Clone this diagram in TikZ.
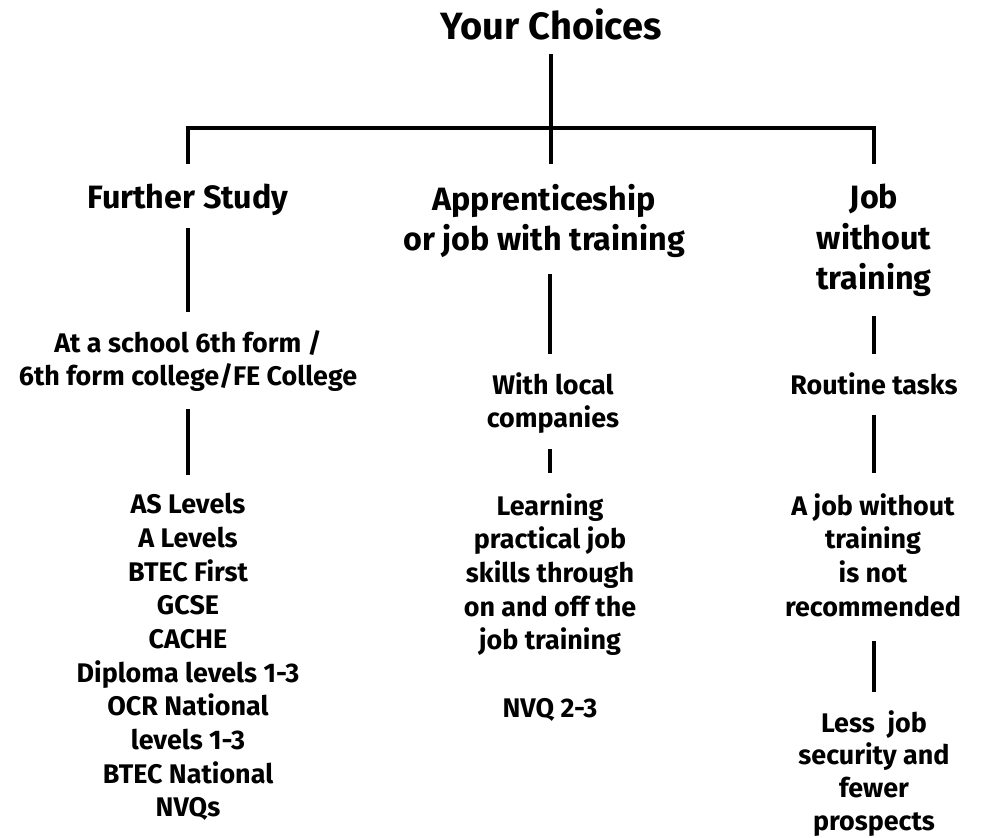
\documentclass[tikz,border=0pt]{standalone}
\usepackage{fontspec}
\setmainfont{Fira Sans}
\begin{document}
\begin{tikzpicture}[x=1pt,y=-1pt,
  conn/.style={line width=4pt,line join=miter},
  titletext/.style={inner sep=0pt,anchor=north,font=\bfseries\fontsize{38}{44}\selectfont},
  headtext/.style={inner sep=0pt,anchor=north,align=center,font=\bfseries\fontsize{32.3}{40.5}\selectfont},
  bodytext/.style={inner sep=0pt,anchor=north,align=center,font=\bfseries\fontsize{26.9}{33.7}\selectfont}]
\useasboundingbox (0,0) rectangle (984,837);
\node[titletext] (title) at (551,8) {Your Choices};
\coordinate (hub) at (551,128);
\node[headtext] (fs) at (188,184) {Further Study};
\node[headtext] (app) at (544,184) {Apprenticeship\\or job with training};
\node[headtext] (job) at (874,184) {Job\\without\\training};
\node[bodytext] (fsub) at (188,330) {At a school 6th form /\\6th form college/FE College};
\node[bodytext] (wl) at (553,372) {With local\\companies};
\node[bodytext] (rt) at (874,372) {Routine tasks};
\node[bodytext] (quals) at (188,493) {AS Levels\\A Levels\\BTEC First\\GCSE\\CACHE\\Diploma levels 1-3\\OCR National\\levels 1-3\\BTEC National\\NVQs};
\node[bodytext] (learn) at (550,493) {Learning\\practical job\\skills through\\on and off the\\job training\\[33.7pt]NVQ 2-3};
\node[bodytext] (ajob) at (873,493) {A job without\\training\\is not\\recommended};
\node[bodytext,font=\bfseries\fontsize{26.9}{32.8}\selectfont] (less) at (874,710) {Less\ \ job\\security and\\fewer\\prospects};
% top tree
\draw[conn,shorten <=14pt] (title.south) -- (hub);
\draw[conn] ([yshift=20pt]fs.north) |- (hub -| job.north) -- ([yshift=20pt]job.north);
\draw[conn,shorten >=20pt] (hub) -- (hub |- app.north);
% columns
\draw[conn,shorten <=12pt,shorten >=18pt] (fs.south) -- (fsub.north);
\draw[conn,shorten <=17pt,shorten >=18pt] (fsub.south) -- (quals.north);
\draw[conn,shorten <=16pt,shorten >=18pt] (app.south -| learn.north) -- (wl.north -| learn.north);
\draw[conn,shorten <=15pt,shorten >=20pt] (wl.south -| learn.north) -- (learn.north);
\draw[conn,shorten <=19pt,shorten >=18pt] (job.south) -- (rt.north);
\draw[conn,shorten <=20pt,shorten >=20pt] (rt.south) -- (ajob.north -| rt.south);
\draw[conn,shorten <=24pt,shorten >=18pt] (ajob.south -| less.north) -- (less.north);
\end{tikzpicture}
\end{document}
